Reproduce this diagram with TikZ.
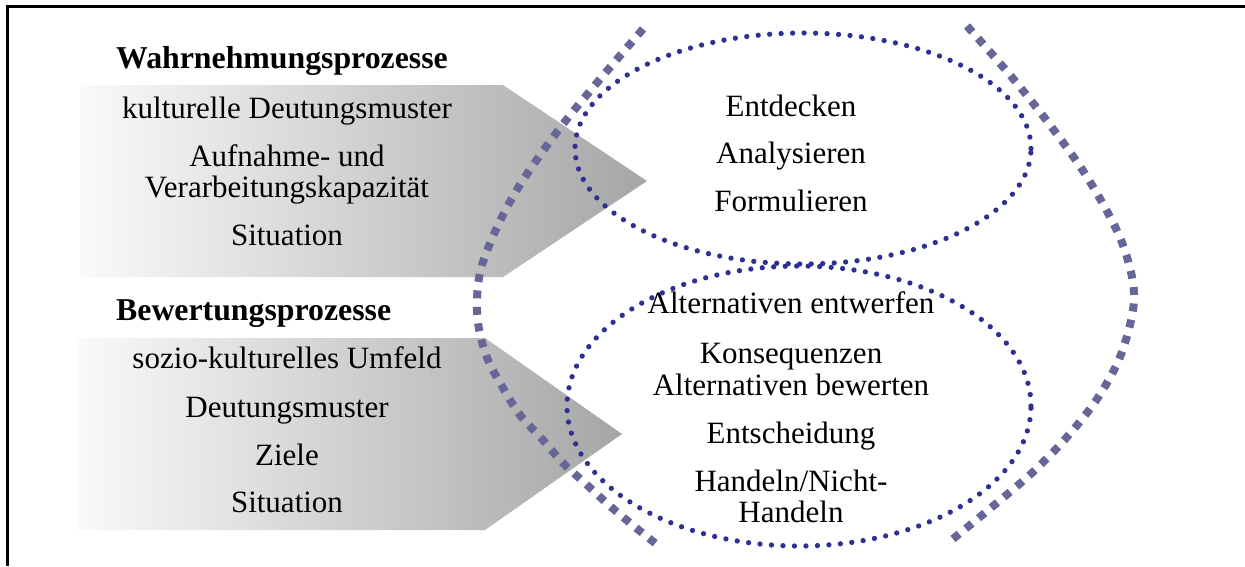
\documentclass[tikz,border=0pt]{standalone}
\usepackage{fontspec}
\setmainfont{Liberation Serif}
\definecolor{dotblue}{HTML}{2E3192}
\definecolor{lensblue}{HTML}{666699}
\begin{document}
\begin{tikzpicture}[x=1pt,y=-1pt,
  txt/.style={inner sep=0pt, anchor=base, font=\fontsize{31}{31}\selectfont},
  heading/.style={inner sep=0pt, anchor=base west, font=\fontsize{31.8}{32}\selectfont\bfseries},
  flow/.style={left color=black!2, right color=black!35, draw=none},
  dots/.style={draw=dotblue, line width=5.3pt, line cap=round, dash pattern=on 0pt off 11.5pt},
  bigdash/.style={draw=lensblue, line width=8pt, dash pattern=on 8pt off 8.5pt}
]
\useasboundingbox (0,0) rectangle (1245,566);
\fill[white] (0,0) rectangle (1245,566);

% frame (top and left edges)
\draw[line width=2.5pt] (7.5,566) -- (7.5,6.5) -- (1245,6.5);

% shaded process arrows
\path[flow] (80,85) -- (503,85) -- (647,181) -- (503,277) -- (80,277) -- cycle;
\path[flow] (77,338) -- (485,338) -- (622,434) -- (485,530) -- (77,530) -- cycle;

% perception processes
\node[heading] (wahr) at (116,68) {Wahrnehmungsprozesse};
\node[txt] (kult) at (287,118) {kulturelle Deutungsmuster};
\node[txt] (aufn) at (287,166) {Aufnahme- und};
\node[txt] (verarb) at (287,197) {Verarbeitungskapazität};
\node[txt] (sit1) at (287,245) {Situation};

% evaluation processes
\node[heading] (bew) at (116,320) {Bewertungsprozesse};
\node[txt] (sozio) at (287,368) {sozio-kulturelles Umfeld};
\node[txt] (deut) at (287,417) {Deutungsmuster};
\node[txt] (ziele) at (287,465) {Ziele};
\node[txt] (sit2) at (287,512) {Situation};

% steps, upper ellipse
\node[txt] (entd) at (791,116) {Entdecken};
\node[txt] (anal) at (791,163) {Analysieren};
\node[txt] (form) at (791,211) {Formulieren};

% steps, lower ellipse
\node[txt] (altent) at (791,313) {Alternativen entwerfen};
\node[txt] (kons) at (791,363) {Konsequenzen};
\node[txt] (altbew) at (791,395) {Alternativen bewerten};
\node[txt] (ents) at (791,443) {Entscheidung};
\node[txt] (hand) at (791,491) {Handeln/Nicht-};
\node[txt] (hand2) at (791,522) {Handeln};

% dotted ellipses
\draw[dots] (803,148.5) ellipse [x radius=228pt, y radius=115.5pt];
\draw[dots] (799,406) ellipse [x radius=232pt, y radius=140pt];

% outer lens arcs
\draw[bigdash] plot[smooth, tension=0.55] coordinates {
  (643,29) (601,78) (560,128) (523,180) (500,221) (482,265) (477,298)
  (479,329) (488,360) (503,388) (520,415) (542,439) (563,463) (587,485)
  (610,506) (635,527) (660,547)};
\draw[bigdash] plot[smooth, tension=0.55] coordinates {
  (967,26) (1010,75) (1050,125) (1087,177) (1118,233) (1132,277) (1133,310)
  (1120,357) (1097,399) (1067,437) (1034,471) (998,502) (948,543)};
\end{tikzpicture}
\end{document}
